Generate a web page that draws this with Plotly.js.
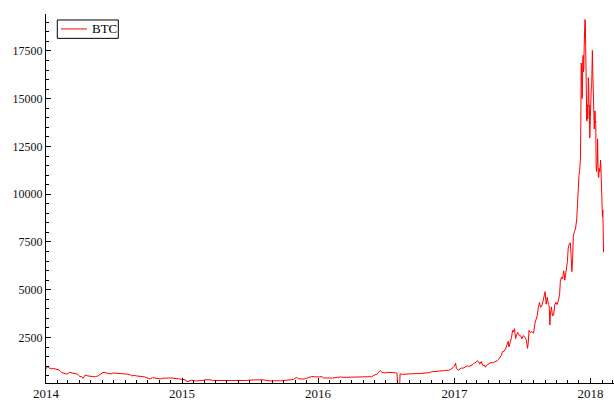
<!DOCTYPE html>
<html>
<head>
<meta charset="utf-8">
<script src="https://cdn.plot.ly/plotly-3.0.1.min.js"></script>
<style>html,body{margin:0;padding:0;background:#fff}#chart{width:614px;height:400px}</style>
</head>
<body>
<div id="chart"></div>
<script>
// BTC closing price (USD)
const dates = [
"2014-01-01","2014-01-05","2014-01-08","2014-01-15","2014-01-22","2014-01-29","2014-02-05","2014-02-12","2014-02-19","2014-02-26",
"2014-03-05","2014-03-12","2014-03-19","2014-03-26","2014-04-02","2014-04-06","2014-04-10","2014-04-16","2014-04-23","2014-04-30",
"2014-05-07","2014-05-14","2014-05-21","2014-05-28","2014-06-03","2014-06-10","2014-06-17","2014-06-24","2014-07-01","2014-07-08",
"2014-07-15","2014-07-22","2014-07-29","2014-08-05","2014-08-12","2014-08-19","2014-08-26","2014-09-02","2014-09-09","2014-09-16",
"2014-09-23","2014-09-30","2014-10-07","2014-10-14","2014-10-21","2014-10-28","2014-11-04","2014-11-11","2014-11-18","2014-11-25",
"2014-12-02","2014-12-09","2014-12-16","2014-12-23","2014-12-30",
"2015-01-06","2015-01-11","2015-01-14","2015-01-20","2015-01-27","2015-02-03","2015-02-10","2015-02-17","2015-02-24","2015-03-03",
"2015-03-10","2015-03-17","2015-03-24","2015-03-31","2015-04-07","2015-04-14","2015-04-21","2015-04-28","2015-05-05","2015-05-12",
"2015-05-19","2015-05-26","2015-06-02","2015-06-09","2015-06-16","2015-06-23","2015-06-30","2015-07-07","2015-07-14","2015-07-21",
"2015-07-28","2015-08-04","2015-08-11","2015-08-18","2015-08-25","2015-09-01","2015-09-08","2015-09-15","2015-09-22","2015-09-29",
"2015-10-06","2015-10-13","2015-10-20","2015-10-27","2015-11-03","2015-11-04","2015-11-10","2015-11-17","2015-11-24","2015-12-01",
"2015-12-08","2015-12-15","2015-12-22","2015-12-29",
"2016-01-05","2016-01-12","2016-01-15","2016-01-19","2016-01-26","2016-02-02","2016-02-09","2016-02-16","2016-02-23","2016-03-01",
"2016-03-08","2016-03-15","2016-03-22","2016-03-29","2016-04-05","2016-04-12","2016-04-19","2016-04-26","2016-05-03","2016-05-10",
"2016-05-17","2016-05-24","2016-05-31","2016-06-07","2016-06-12","2016-06-16","2016-06-21","2016-06-28","2016-07-05","2016-07-12",
"2016-07-19","2016-07-26","2016-07-31","2016-08-01","2016-08-07","2016-08-08","2016-08-15","2016-08-22","2016-08-29","2016-09-05",
"2016-09-12","2016-09-19","2016-09-26","2016-10-03","2016-10-10","2016-10-17","2016-10-24","2016-10-31","2016-11-07","2016-11-14",
"2016-11-21","2016-11-28","2016-12-05","2016-12-12","2016-12-19","2016-12-26",
"2017-01-01","2017-01-04","2017-01-06","2017-01-11","2017-01-15","2017-01-19","2017-01-24","2017-01-28","2017-02-01","2017-02-05",
"2017-02-09","2017-02-13","2017-02-17","2017-02-21","2017-02-25","2017-03-01","2017-03-03","2017-03-07","2017-03-10","2017-03-14",
"2017-03-18","2017-03-22","2017-03-25","2017-03-28","2017-04-01","2017-04-05","2017-04-09","2017-04-13","2017-04-17","2017-04-21",
"2017-04-25","2017-04-29","2017-05-03","2017-05-07","2017-05-10","2017-05-14","2017-05-18","2017-05-21","2017-05-25","2017-05-27",
"2017-05-30","2017-06-03","2017-06-06","2017-06-08","2017-06-11","2017-06-14","2017-06-17","2017-06-20","2017-06-24","2017-06-28",
"2017-07-01","2017-07-05","2017-07-09","2017-07-13","2017-07-16","2017-07-18","2017-07-20","2017-07-24","2017-07-28","2017-08-01",
"2017-08-05","2017-08-08","2017-08-11","2017-08-14","2017-08-17","2017-08-20","2017-08-23","2017-08-26","2017-08-29","2017-09-01",
"2017-09-04","2017-09-07","2017-09-10","2017-09-12","2017-09-14","2017-09-15","2017-09-18","2017-09-21","2017-09-24","2017-09-27",
"2017-09-30","2017-10-03","2017-10-07","2017-10-10","2017-10-12","2017-10-15","2017-10-18","2017-10-21","2017-10-24","2017-10-27",
"2017-10-31","2017-11-02","2017-11-05","2017-11-08","2017-11-10","2017-11-12","2017-11-14","2017-11-16","2017-11-19","2017-11-22",
"2017-11-25","2017-11-27","2017-11-29","2017-12-01","2017-12-03","2017-12-05","2017-12-06","2017-12-07","2017-12-08","2017-12-09",
"2017-12-10","2017-12-11","2017-12-12","2017-12-13","2017-12-14","2017-12-15","2017-12-16","2017-12-17","2017-12-18","2017-12-19",
"2017-12-20","2017-12-21","2017-12-22","2017-12-23","2017-12-24","2017-12-25","2017-12-26","2017-12-27","2017-12-28","2017-12-29",
"2017-12-30","2017-12-31",
"2018-01-01","2018-01-02","2018-01-03","2018-01-04","2018-01-05","2018-01-06","2018-01-07","2018-01-08","2018-01-09","2018-01-10",
"2018-01-11","2018-01-12","2018-01-13","2018-01-14","2018-01-15","2018-01-16","2018-01-17","2018-01-18","2018-01-19","2018-01-20",
"2018-01-21","2018-01-22","2018-01-23","2018-01-24","2018-01-25","2018-01-26","2018-01-27","2018-01-28","2018-01-29","2018-01-30",
"2018-01-31","2018-02-01","2018-02-02","2018-02-03","2018-02-04","2018-02-05"
];
const btc = [
860,960,920,860,870,830,800,660,620,580,
670,630,610,580,450,460,360,530,490,450,
440,450,490,580,670,650,600,590,640,625,
620,620,580,590,570,490,510,480,480,455,
430,390,330,395,380,355,325,365,385,375,
380,350,325,330,315,
285,270,178,210,265,225,220,245,240,280,
290,285,245,245,255,220,235,225,235,240,
232,237,225,230,250,245,265,270,290,278,
295,285,268,230,220,228,243,230,232,237,
246,250,270,295,405,410,335,335,320,362,
415,455,440,420,
432,448,375,380,392,373,376,400,420,433,
412,415,418,415,423,425,437,466,450,450,
454,445,530,575,700,760,670,645,670,670,
670,655,625,0,0,590,570,585,575,610,
608,610,605,612,617,638,655,700,705,710,
735,735,765,780,790,895,
998,1150,890,780,820,900,890,920,990,1020,
980,1000,1050,1120,1150,1220,1280,1220,1100,1240,
1030,1050,940,1040,1090,1130,1190,1170,1200,1250,
1270,1350,1490,1570,1760,1770,1900,2040,2300,2000,
2200,2500,2870,2790,2960,2440,2660,2760,2590,2580,
2430,2600,2500,2360,1930,2230,2870,2750,2810,2720,
3250,3430,3650,4070,4330,4080,4150,4350,4580,4900,
4240,4600,4230,4160,3150,3640,4100,3630,3670,4200,
4340,4220,4440,4750,5430,5660,5570,5990,5500,5890,
6470,7140,7400,7460,6620,5950,6630,7850,8040,8230,
8700,9730,9890,10980,11250,11900,13750,16870,16650,15000,
15060,16730,17270,16400,16570,17700,19100,19150,19110,17780,
16620,15800,13830,14700,13930,13950,16100,15840,14600,14660,
12950,14160,
13660,15200,15600,15600,17430,17530,16480,15170,14600,14970,
13410,13980,14360,13770,13820,11490,11190,11470,11610,12900,
11600,10930,10870,11360,11260,11170,11440,11790,11300,10110,
10220,9170,8830,9170,8280,6960
];
const seriesName = "BTC";
const yearTicks = ["2014-01-01","2015-01-01","2016-01-01","2017-01-01","2018-01-01"];
const yearLabels = ["2014","2015","2016","2017","2018"];

const fam = "Liberation Serif, Times New Roman, serif";
const font = {family: fam, size: 12, color: "#111"};
const xfont = {family: fam, size: 13, color: "#111"};
const lineColor = "#ff0000";

Plotly.newPlot("chart", [{
  x: dates, y: btc, name: seriesName, type: "scatter", mode: "lines",
  line: {color: lineColor, width: 1}, showlegend: false
}], {
  width: 614, height: 400,
  margin: {l: 46, r: 0, t: 14, b: 17, pad: 0},
  paper_bgcolor: "#fff", plot_bgcolor: "#fff",
  font: font,
  showlegend: false,
  // legend box drawn in paper coordinates
  shapes: [
    {type: "rect", xref: "paper", yref: "paper", x0: 0.0199, x1: 0.1273, y0: 0.9340, y1: 0.9838,
     line: {color: "#000", width: 1}, fillcolor: "#fff", layer: "above"},
    {type: "line", xref: "paper", yref: "paper", x0: 0.0264, x1: 0.0722, y0: 0.9595, y1: 0.9595,
     line: {color: lineColor, width: 1}, layer: "above"}
  ],
  annotations: [
    {xref: "paper", yref: "paper", x: 0.0775, y: 0.9595, xanchor: "left", yanchor: "middle",
     text: seriesName, showarrow: false, font: {family: fam, size: 13, color: "#000"}}
  ],
  xaxis: {type: "date", range: ["2014-01-01", "2018-03-05"],
          tickmode: "array", tickvals: yearTicks, ticktext: yearLabels,
          ticks: "inside", ticklen: 5, tickcolor: "#000",
          minor: {dtick: "M1", tick0: "2014-01-01", ticks: "inside", ticklen: 3, tickcolor: "#000"},
          showline: true, linecolor: "#000", linewidth: 1, ticklabelstandoff: -2,
          showgrid: false, zeroline: false, tickfont: xfont},
  yaxis: {range: [115, 19436], tick0: 0, dtick: 2500,
          ticks: "inside", ticklen: 5, tickcolor: "#000",
          minor: {dtick: 500, ticks: "inside", ticklen: 3, tickcolor: "#000"},
          showline: true, linecolor: "#000", linewidth: 1,
          showgrid: false, zeroline: false, tickfont: font, tickformat: "d"}
}, {displayModeBar: false, staticPlot: true});
</script>
</body>
</html>
